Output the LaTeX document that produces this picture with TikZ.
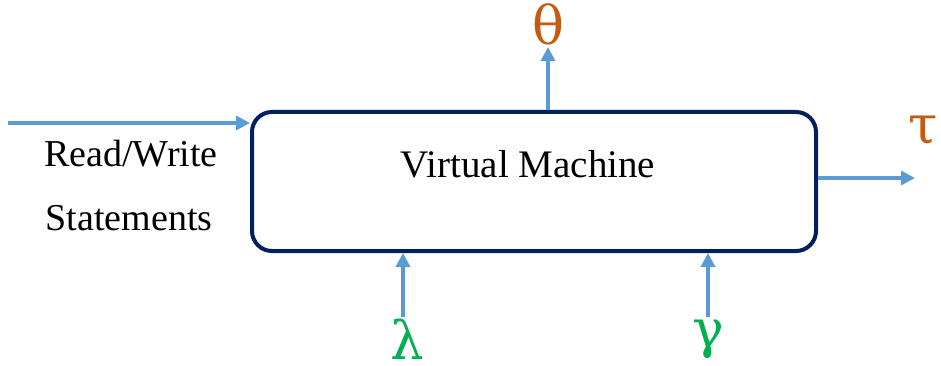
\documentclass[tikz,border=0pt]{standalone}
\usepackage{fontspec}
\setmainfont{Liberation Serif}
\newfontfamily\grk{DejaVu Serif}
\usetikzlibrary{arrows.meta}
\definecolor{navy}{RGB}{0,32,96}
\definecolor{arrblue}{RGB}{91,155,213}
\definecolor{orng}{RGB}{197,90,17}
\definecolor{grn}{RGB}{0,176,80}
\tikzset{
  flow/.style={draw=arrblue, line width=3.5pt, -{Triangle[length=14pt,width=14pt]}},
  vmbox/.style={draw=navy, line width=4pt, rounded corners=20pt, minimum width=564pt, minimum height=139pt, inner sep=0pt},
  lbl/.style={font=\fontsize{38}{44}\selectfont, inner sep=0pt},
  greek/.style={font=\grk\fontsize{53}{58}\selectfont, inner sep=0pt}
}
\begin{document}
\begin{tikzpicture}[x=1pt,y=-1pt]
\useasboundingbox (0,0) rectangle (941,366);
\node[vmbox] (vm) at (534,181.5) {};
\node[lbl, anchor=base, font=\fontsize{39}{44}\selectfont] (vmt) at (528,177) {Virtual Machine};
\node[lbl, anchor=base] (rw) at (131,167) {Read/Write};
\node[lbl, anchor=base] (st) at (129,230) {Statements};
\node[greek, text=orng] (theta) at (548,24) {θ};
\node[greek, text=orng] (tau) at (923,131) {τ};
\node[greek, text=grn] (lambda) at (407,339) {λ};
\node[greek, text=grn] (gamma) at (708,339) {γ};
\coordinate (instart) at (8,123);
\coordinate (tauend) at (915,178);
\coordinate (thetatip) at (548,47);
\coordinate (lamfoot) at (403,317);
\coordinate (gamfoot) at (708,317);
\draw[flow] (instart) -- (instart -| vm.west);
\draw[flow] (thetatip |- vm.north) -- (thetatip);
\draw[flow] (tauend -| vm.east) -- (tauend);
\draw[flow] (lamfoot) -- (lamfoot |- vm.south);
\draw[flow] (gamfoot) -- (gamfoot |- vm.south);
\end{tikzpicture}
\end{document}
